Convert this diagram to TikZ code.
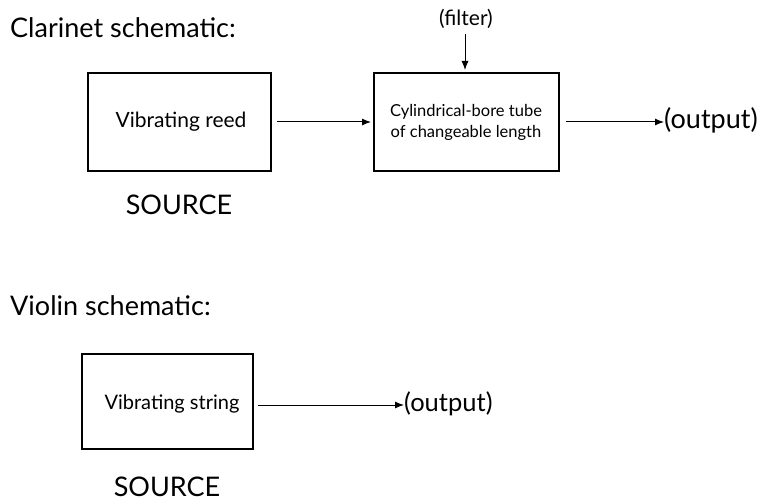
\documentclass[tikz,border=0pt]{standalone}
\usepackage{fontspec}
\setmainfont{Lato}
\usetikzlibrary{arrows.meta}
\begin{document}
\begin{tikzpicture}[x=1pt,y=-1pt,
  blockbox/.style={draw=black,line width=2.8pt,inner sep=0pt},
  title/.style={anchor=west,font=\fontsize{27}{32}\selectfont},
  biglabel/.style={font=\fontsize{27}{32}\selectfont},
  boxtext/.style={font=\fontsize{21}{25}\selectfont},
  smalltext/.style={font=\fontsize{16.5}{21}\selectfont,align=center},
  flow/.style={line width=1pt,-{Latex[length=9pt,width=7pt]}}]
\useasboundingbox (0,0) rectangle (760,502);
% clarinet
\node[title,inner sep=0pt] (ctitle) at (10,28) {Clarinet schematic:};
\draw[blockbox] (88,73) rectangle (271,171);
\node[boxtext] (reed) at (181,122) {Vibrating reed};
\coordinate (reedE) at (277,122);
\node[biglabel] (src1) at (179,205) {SOURCE};
\draw[blockbox] (374,73) rectangle (559,171);
\node[smalltext] (tube) at (466,122) {Cylindrical-bore tube\\of changeable length};
\coordinate (tubeW) at (371,122);
\coordinate (tubeN) at (465,70);
\coordinate (tubeE) at (566,122);
\node[font=\fontsize{21}{25}\selectfont,inner sep=0pt] (filter) at (466,19) {(filter)};
\coordinate (filterS) at (465,34);
\node[biglabel,anchor=west,inner sep=0pt] (out1) at (664,120) {(output)};
\draw[flow] (reedE) -- (tubeW);
\draw[flow] (filterS) -- (tubeN);
\draw[flow] (tubeE) -- (tubeE -| out1.west);
% violin
\node[title,inner sep=0pt] (vtitle) at (10,306) {Violin schematic:};
\draw[blockbox] (82,354) rectangle (253,449);
\node[font=\fontsize{20}{24}\selectfont] (string) at (172,404) {Vibrating string};
\coordinate (stringE) at (258,405);
\node[font=\fontsize{25.5}{30}\selectfont,anchor=west,inner sep=0pt] (out2) at (404,404) {(output)};
\node[biglabel] (src2) at (167,487) {SOURCE};
\draw[flow] (stringE) -- (stringE -| out2.west);
\end{tikzpicture}
\end{document}
